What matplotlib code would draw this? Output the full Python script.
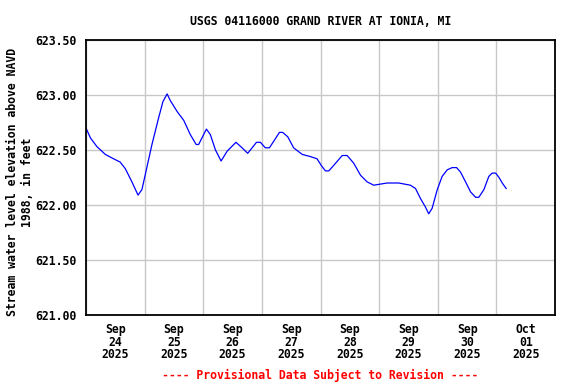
import numpy as np
import pandas as pd
import matplotlib
matplotlib.use("Agg")
import matplotlib.pyplot as plt
import matplotlib.dates as mdates

# hours since 2025-09-24 00:00 and gage height readings (ft, NAVD 1988)
hours = [0, 1.8, 4.5, 7.9, 11.3, 14.0, 16.1, 18.8, 21.3, 22.9,
         25.0, 27.0, 29.7, 31.5, 33.2, 34.5, 37.3, 40.0, 42.7, 45.1,
         46.1, 49.3, 50.9, 53.0, 55.3, 57.8, 61.4, 63.9, 66.2, 69.8,
         71.4, 73.4, 75.1, 79.2, 80.5, 82.6, 85.0, 88.5, 91.9, 94.6,
         96.3, 98.0, 99.4, 101.4, 104.9, 106.9, 109.6, 112.4, 115.1, 117.8,
         120.5, 123.3, 128.0, 132.8, 134.9, 136.9, 139.0, 140.3, 141.7, 143.8,
         145.8, 147.9, 149.9, 151.7, 153.3, 155.4, 157.4, 159.5, 160.8, 162.9,
         164.9, 166.3, 167.7, 169.1, 170.4, 172.0]
elev = [622.70, 622.61, 622.53, 622.46, 622.42, 622.39, 622.33, 622.21, 622.09, 622.14,
        622.35, 622.55, 622.79, 622.94, 623.01, 622.95, 622.85, 622.77, 622.64, 622.55,
        622.55, 622.69, 622.64, 622.50, 622.40, 622.49, 622.57, 622.52, 622.47, 622.57,
        622.57, 622.52, 622.52, 622.66, 622.66, 622.62, 622.52, 622.46, 622.44, 622.42,
        622.36, 622.31, 622.31, 622.36, 622.45, 622.45, 622.38, 622.27, 622.21, 622.18,
        622.19, 622.20, 622.20, 622.18, 622.15, 622.06, 621.98, 621.92, 621.97, 622.14,
        622.26, 622.32, 622.34, 622.34, 622.30, 622.21, 622.12, 622.07, 622.07, 622.14,
        622.26, 622.29, 622.29, 622.25, 622.20, 622.15]

y_ticks = [621.0, 621.5, 622.0, 622.5, 623.0, 623.5]

start = pd.Timestamp("2025-09-24 00:00")
end = pd.Timestamp("2025-10-02 00:00")
times = start + pd.to_timedelta(hours, unit="h")

font = {"family": "DejaVu Sans Mono", "weight": "bold", "size": 8.3}

fig = plt.figure(figsize=(5.76, 3.84), dpi=100)
ax = fig.add_axes([86 / 576, 69 / 384, 469 / 576, 275 / 384])

ax.plot(times, elev, color="#0000ff", linewidth=0.9)

ax.set_xlim(start, end)
ax.set_ylim(621.0, 623.5)
ax.set_yticks(y_ticks)
ax.set_yticklabels([f"{v:.2f}" for v in y_ticks], fontdict=font)

# labels at noon, grid lines at midnight
ax.xaxis.set_major_locator(mdates.HourLocator(byhour=12))
ax.xaxis.set_major_formatter(mdates.DateFormatter("%b\n%d\n%Y"))
ax.xaxis.set_minor_locator(mdates.DayLocator())
for lab in ax.get_xticklabels():
    lab.set_fontproperties(matplotlib.font_manager.FontProperties(**font))
    lab.set_linespacing(0.95)

ax.grid(True, axis="y", which="major", color="#c8c8c8", linewidth=1)
ax.grid(True, axis="x", which="minor", color="#c8c8c8", linewidth=1)
ax.tick_params(axis="both", which="both", length=0)
ax.tick_params(axis="y", pad=7)
ax.tick_params(axis="x", pad=6)
for s in ax.spines.values():
    s.set_linewidth(1.3)

ax.set_ylabel("Stream water level elevation above NAVD\n1988, in feet",
              fontdict=font, linespacing=1.2, labelpad=1)
ax.yaxis.set_label_coords(-0.11, 0.484)
ax.set_title("USGS 04116000 GRAND RIVER AT IONIA, MI", fontdict=font, pad=11)
fig.text(320 / 576, 1 - 375 / 384, "---- Provisional Data Subject to Revision ----",
         color="red", ha="center", va="center", **font)

fig.savefig("out.png", dpi=100, facecolor="white")
